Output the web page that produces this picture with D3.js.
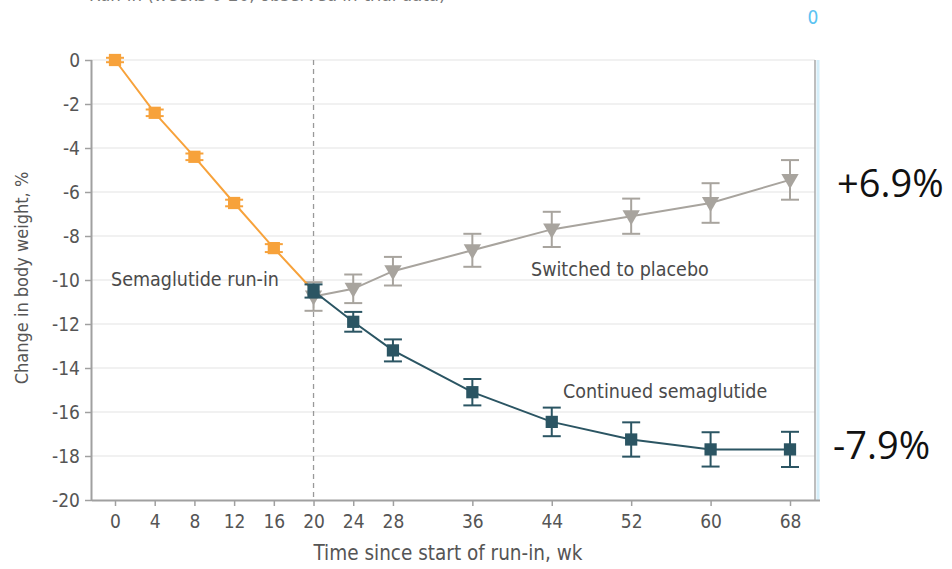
<!DOCTYPE html>
<html>
<head>
<meta charset="utf-8">
<script src="https://cdn.jsdelivr.net/npm/d3@7/dist/d3.min.js"></script>
<style>
  body { margin: 0; background: #fff; }
  #chart { width: 952px; height: 569px; }
  text { font-family: 'DejaVu Sans Condensed', 'DejaVu Sans', sans-serif; }
</style>
</head>
<body>
<div id="chart"></div>
<script>
// run-in (orange), continued semaglutide (teal), switched to placebo (gray)
const runInWeeks = [0, 4, 8, 12, 16, 20];
const runInMean = [0, -2.4, -4.4, -6.5, -8.55, -10.5];
const runInErr = [0.1, 0.15, 0.15, 0.15, 0.18, 0];

const contWeeks = [20, 24, 28, 36, 44, 52, 60, 68];
const contMean = [-10.5, -11.9, -13.2, -15.1, -16.45, -17.25, -17.7, -17.7];
const contErr = [0.3, 0.45, 0.5, 0.6, 0.65, 0.78, 0.78, 0.8];

const placWeeks = [20, 24, 28, 36, 44, 52, 60, 68];
const placMean = [-10.75, -10.4, -9.6, -8.65, -7.7, -7.1, -6.5, -5.45];
const placErr = [0.65, 0.65, 0.65, 0.75, 0.8, 0.8, 0.9, 0.9];

const xTicks = [0, 4, 8, 12, 16, 20, 24, 28, 36, 44, 52, 60, 68];
const yTicks = [0, -2, -4, -6, -8, -10, -12, -14, -16, -18, -20];

const C = { orange: '#f7a23b', teal: '#2b5563', gray: '#a8a49e', grid: '#e3e3e3', axis: '#a0a0a0', text: '#555' };

const W = 952, H = 569;
const svg = d3.select('#chart').append('svg').attr('width', W).attr('height', H);

const x = d3.scaleLinear().domain([0, 68]).range([115, 790]);
const y = d3.scaleLinear().domain([-20, 0]).range([500, 60]);
const L = 92, R = 815;

// cut-off heading at the top
svg.append('text').attr('x', 89).attr('y', 1).attr('fill', '#777').style('font-size', '18.5px')
  .text('Run-in (weeks 0-20, observed in-trial data)');

// grid
svg.append('g').selectAll('line').data(yTicks.filter(d => d !== -20)).enter().append('line')
  .attr('x1', L).attr('x2', R).attr('y1', d => y(d)).attr('y2', d => y(d))
  .attr('stroke', C.grid).attr('stroke-width', 1.2);

// right border
svg.append('line').attr('x1', R + 3).attr('x2', R + 3).attr('y1', 60).attr('y2', 500).attr('stroke', '#d5eef9').attr('stroke-width', 3);
svg.append('line').attr('x1', R).attr('x2', R).attr('y1', 60).attr('y2', 500).attr('stroke', '#a8a8a8').attr('stroke-width', 1.5);

// axes
const yAxis = svg.append('g').attr('transform', `translate(${L},0)`)
  .call(d3.axisLeft(y).tickValues(yTicks).tickSize(7).tickPadding(5).tickFormat(d => d === 0 ? '0' : '-' + Math.abs(d)));
const xAxis = svg.append('g').attr('transform', `translate(0,500)`)
  .call(d3.axisBottom(x).tickValues(xTicks).tickSize(6).tickPadding(9));
xAxis.select('.domain').attr('d', `M${L},0.5H820`);
yAxis.select('.domain').attr('d', `M-0.5,60V500`);
[xAxis, yAxis].forEach(a => {
  a.attr('font-size', 19).attr('font-family', "'DejaVu Sans Condensed', sans-serif");
  a.select('.domain').attr('stroke', C.axis).attr('stroke-width', 2);
  a.selectAll('.tick line').attr('stroke', C.axis).attr('stroke-width', 1.5);
  a.selectAll('.tick text').attr('fill', C.text);
});

// dashed line at week 20
svg.append('line').attr('x1', x(20)).attr('x2', x(20)).attr('y1', 60).attr('y2', 500)
  .attr('stroke', '#999').attr('stroke-width', 1.3).attr('stroke-dasharray', '5,4');

// axis titles
svg.append('text').attr('x', 448).attr('y', 560).attr('text-anchor', 'middle').attr('fill', C.text)
  .style('font-size', '20.5px').text('Time since start of run-in, wk');
svg.append('text').attr('transform', 'translate(28,278) rotate(-90)').attr('text-anchor', 'middle').attr('fill', C.text)
  .style('font-size', '18px').text('Change in body weight, %');

function series(weeks, mean, err, color, shape, noMarkerLast) {
  const pts = weeks.map((w, i) => ({ w, m: mean[i], e: err[i], i }));
  const line = d3.line().x(d => x(d.w)).y(d => y(d.m));
  const g = svg.append('g');
  g.append('path').attr('d', line(pts)).attr('fill', 'none').attr('stroke', color).attr('stroke-width', 2);
  const eb = g.selectAll('.eb').data(pts.filter(d => d.e > 0)).enter().append('g');
  eb.append('line').attr('x1', d => x(d.w)).attr('x2', d => x(d.w)).attr('y1', d => y(d.m + d.e)).attr('y2', d => y(d.m - d.e)).attr('stroke', color).attr('stroke-width', 2);
  [1, -1].forEach(s => eb.append('line').attr('x1', d => x(d.w) - 9).attr('x2', d => x(d.w) + 9)
    .attr('y1', d => y(d.m + s * d.e)).attr('y2', d => y(d.m + s * d.e)).attr('stroke', color).attr('stroke-width', 2));
  const mk = pts.filter(d => !(noMarkerLast && d.i === pts.length - 1));
  const sym = d3.symbol().type(shape === 'tri' ? d3.symbolTriangle : d3.symbolSquare).size(shape === 'tri' ? 130 : 150);
  g.selectAll('.mk').data(mk).enter().append('path').attr('d', sym)
    .attr('transform', d => `translate(${x(d.w)},${y(d.m) + (shape === 'tri' ? -1 : 0)})` + (shape === 'tri' ? ' rotate(180)' : ''))
    .attr('fill', color);
}

series(placWeeks, placMean, placErr, C.gray, 'tri');
series(runInWeeks, runInMean, runInErr, C.orange, 'sq', true);
series(contWeeks, contMean, contErr, C.teal, 'sq');

// annotations
const ann = [
  { t: 'Semaglutide run-in', x: 111, y: 286 },
  { t: 'Switched to placebo', x: 531, y: 276 },
  { t: 'Continued semaglutide', x: 563, y: 398 }
];
svg.append('g').selectAll('text').data(ann).enter().append('text')
  .attr('x', d => d.x).attr('y', d => d.y).attr('fill', '#4a4a4a').style('font-size', '19.5px').text(d => d.t);

svg.append('text').attr('x', 813).attr('y', 24).attr('text-anchor', 'middle').attr('fill', '#5cc3f2').style('font-size', '19px').text('0');

const side = [{ t: '+6.9%', x: 837, y: 197 }, { t: '-7.9%', x: 833, y: 459 }];
svg.append('g').selectAll('text').data(side).enter().append('text')
  .attr('x', d => d.x).attr('y', d => d.y).attr('fill', '#111')
  .style('font-family', "'Open Sans', sans-serif").style('font-size', '38px').text(d => d.t);
</script>
</body>
</html>
